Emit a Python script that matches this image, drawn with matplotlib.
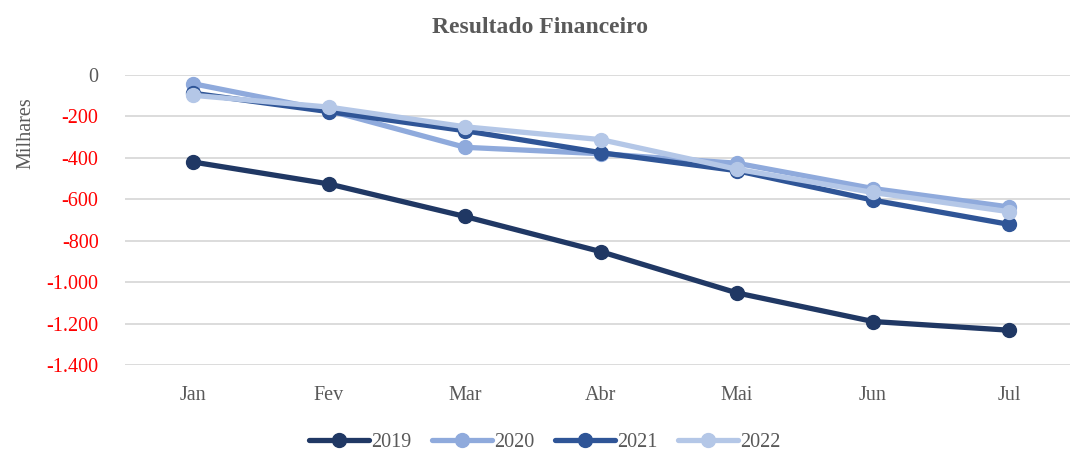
import numpy as np
import matplotlib.pyplot as plt
from matplotlib.ticker import FuncFormatter

meses = ["Jan", "Fev", "Mar", "Abr", "Mai", "Jun", "Jul"]
anos = ["2019", "2020", "2021", "2022"]
v2019 = [-420, -526, -683, -853, -1052, -1190, -1232]
v2020 = [-42, -172, -349, -380, -426, -548, -637]
v2021 = [-88, -177, -269, -375, -462, -604, -721]
v2022 = [-98, -155, -250, -312, -455, -567, -660]
cores = ["#203864", "#8FAADC", "#2F5597", "#B4C7E7"]

plt.rcParams['font.family'] = ['Liberation Serif', 'DejaVu Serif']

fig = plt.figure(figsize=(10.7, 4.55), dpi=100)
ax = fig.add_axes([125/1070, 1 - 365/455, 1 - 125/1070, 290/455])

x = np.arange(len(meses))
for ano, vals, cor in zip(anos, [v2019, v2020, v2021, v2022], cores):
    ax.plot(x, vals, color=cor, lw=3.8, marker="o", ms=10, label=ano,
            solid_capstyle="round")

ax.set_xlim(-0.5, 6.449)
ax.set_ylim(-1400, 0)
ax.set_yticks(np.arange(-1400, 1, 200))
ax.yaxis.set_major_formatter(FuncFormatter(lambda v, p: f"{int(v):,}".replace(",", ".")))
ax.set_xticks(x)
ax.set_xticklabels(meses)
ax.grid(axis="y", color="#D9D9D9", lw=1.3)
ax.set_axisbelow(True)
for s in ax.spines.values():
    s.set_visible(False)
ax.tick_params(length=0, labelsize=14.5, colors="#595959", pad=19)
ax.tick_params(axis="x", pad=15)
for lab in ax.get_yticklabels():
    lab.set_color("#595959" if lab.get_text() == "0" else "red")
ax.set_ylabel("Milhares", fontsize=14.5, color="#595959")
ax.yaxis.set_label_coords(-0.095, 0.8)

fig.text(0.505, 0.94, "Resultado Financeiro", ha="center", va="center",
         fontsize=17, fontweight="bold", color="#595959")
fig.legend(loc="center", bbox_to_anchor=(0.509, 0.027), ncol=4, frameon=False,
           fontsize=14.5, handlelength=3.0, handletextpad=0.1, columnspacing=1.0,
           labelcolor="#595959")

fig.savefig("out.png", dpi=100)
